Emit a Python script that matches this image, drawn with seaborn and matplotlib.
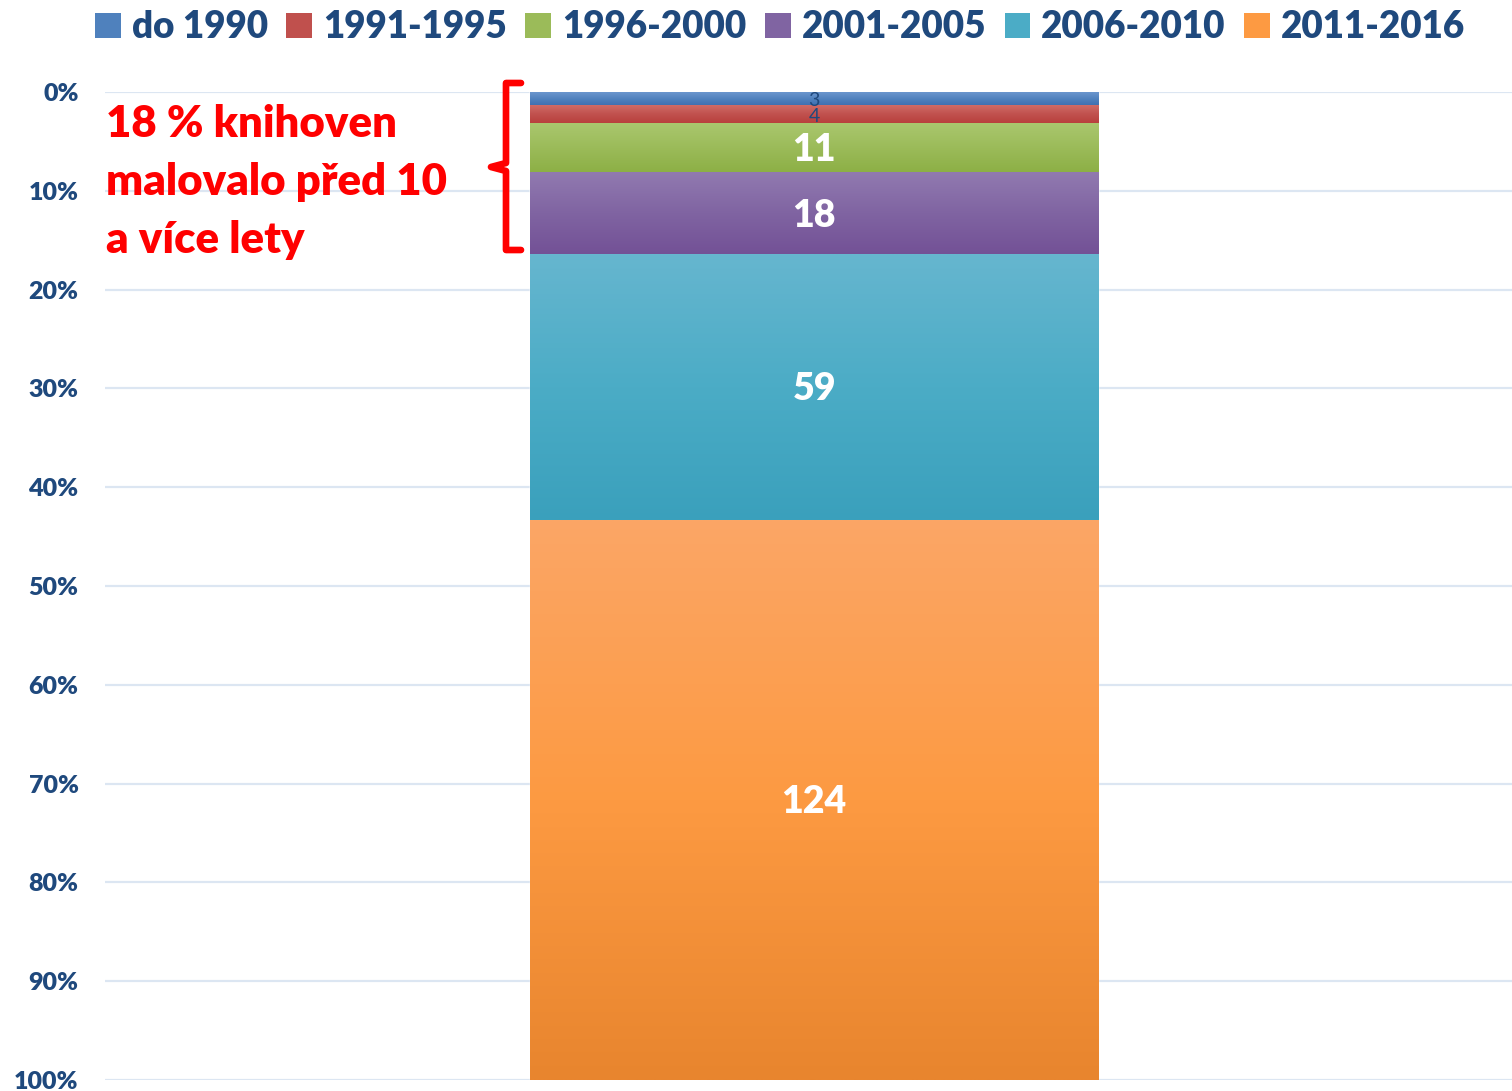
import numpy as np
import pandas as pd
import matplotlib
matplotlib.use('Agg')
import matplotlib.pyplot as plt
import matplotlib.colors as mcolors
from matplotlib.patches import Patch
import seaborn as sns

# ── Data ──────────────────────────────────────────────────────
periods = ['do 1990', '1991-1995', '1996-2000', '2001-2005', '2006-2010', '2011-2016']
counts  = [3, 4, 11, 18, 59, 124]

# gradient colours per period: (top, middle, bottom)
grad_top = ['#6B96CE', '#CF6B67', '#AAC76E', '#917AB0', '#66B6CF', '#FBA666']
grad_mid = ['#4F81BD', '#C0504D', '#9BBB59', '#8064A2', '#4BACC6', '#FD9A42']
grad_bot = ['#3D6DB0', '#B83E3B', '#8CAF45', '#735196', '#3AA0BC', '#E8852E']

note_lines = ['18 % knihoven', 'malovalo před 10', 'a více lety']
yticks     = list(range(0, 101, 10))

TEXT_BLUE = '#1F497D'
GRID      = '#DCE6F2'
WEIGHT    = 800

sns.set_theme(style='white')
plt.rcParams['font.family'] = ['Lato', 'DejaVu Sans']

pct = np.array(counts) / sum(counts) * 100
cum = np.cumsum(pct)
lo  = np.concatenate([[0], cum[:-1]])

fig = plt.figure(figsize=(15.12, 10.91), dpi=100)
ax = fig.add_axes([105/1512, 1 - 1080/1091, 1 - 105/1512, 988/1091])

BAR_W = 568 / 1407
# overdraw cumulative bars, largest first (y axis runs downwards)
for i in reversed(range(len(periods))):
    sns.barplot(x=['x'], y=[cum[i]], color=grad_mid[i], width=BAR_W,
                saturation=1, ax=ax, zorder=2)

ax.set_xlim(-0.504, 0.496)
x0, x1 = -BAR_W / 2, BAR_W / 2

# vertical gradient over every segment
for i in range(len(periods)):
    cmap = mcolors.LinearSegmentedColormap.from_list(
        'g', [grad_top[i], grad_mid[i], grad_bot[i]])
    g = np.linspace(0, 1, 256).reshape(-1, 1)
    ax.imshow(g, cmap=cmap, extent=(x0, x1, cum[i], lo[i]), origin='upper',
              aspect='auto', zorder=3, interpolation='bilinear')

ax.set_xlim(-0.504, 0.496)
ax.set_ylim(100, 0)

# value labels
for i, c in enumerate(counts):
    mid = (lo[i] + cum[i]) / 2
    if c < 10:
        ax.text(0, mid + 0.15, str(c), ha='center', va='center', fontsize=14,
                color=TEXT_BLUE, zorder=5)
    else:
        ax.text(0, mid + 0.2, str(c), ha='center', va='center', fontsize=27,
                fontweight=WEIGHT, color='white', zorder=5)

# axes styling
ax.set_yticks(yticks)
ax.set_yticklabels([f'{t}%' for t in yticks], fontsize=18, fontweight=WEIGHT,
                   color=TEXT_BLUE)
ax.tick_params(axis='y', length=0, pad=19)
ax.set_xticks([])
ax.set_xlabel('')
ax.set_ylabel('')
ax.grid(axis='y', color=GRID, linewidth=1.6, zorder=0)
ax.set_axisbelow(True)
for s in ax.spines.values():
    s.set_visible(False)

# red note + curly bracket
def px2x(px):
    return (px - 105) / 1407 - 0.504

def py2y(py):
    return (py - 92) / 988 * 100

for k, line in enumerate(note_lines):
    ax.text(px2x(106), py2y(124 + 58 * k), line, ha='left', va='center',
            fontsize=31.5, fontweight=WEIGHT, color='#FF0000', zorder=5)

bx = [px2x(521), px2x(506), px2x(506), px2x(491), px2x(506), px2x(506), px2x(521)]
by = [py2y(83), py2y(83), py2y(163), py2y(167), py2y(171), py2y(250), py2y(250)]
ax.plot(bx, by, color='#FF0000', linewidth=4.8, solid_joinstyle='round',
        solid_capstyle='round', clip_on=False, zorder=6)

# legend
handles = [Patch(facecolor=grad_mid[i], edgecolor='none') for i in range(len(periods))]
fig.legend(handles, periods, loc='center', bbox_to_anchor=(0.516, 0.975),
           ncol=6, frameon=False, handlelength=0.7, handleheight=0.7,
           handletextpad=0.3, columnspacing=0.5,
           prop={'size': 26.5, 'weight': WEIGHT}, labelcolor=TEXT_BLUE)

fig.savefig('out.png', dpi=100)
